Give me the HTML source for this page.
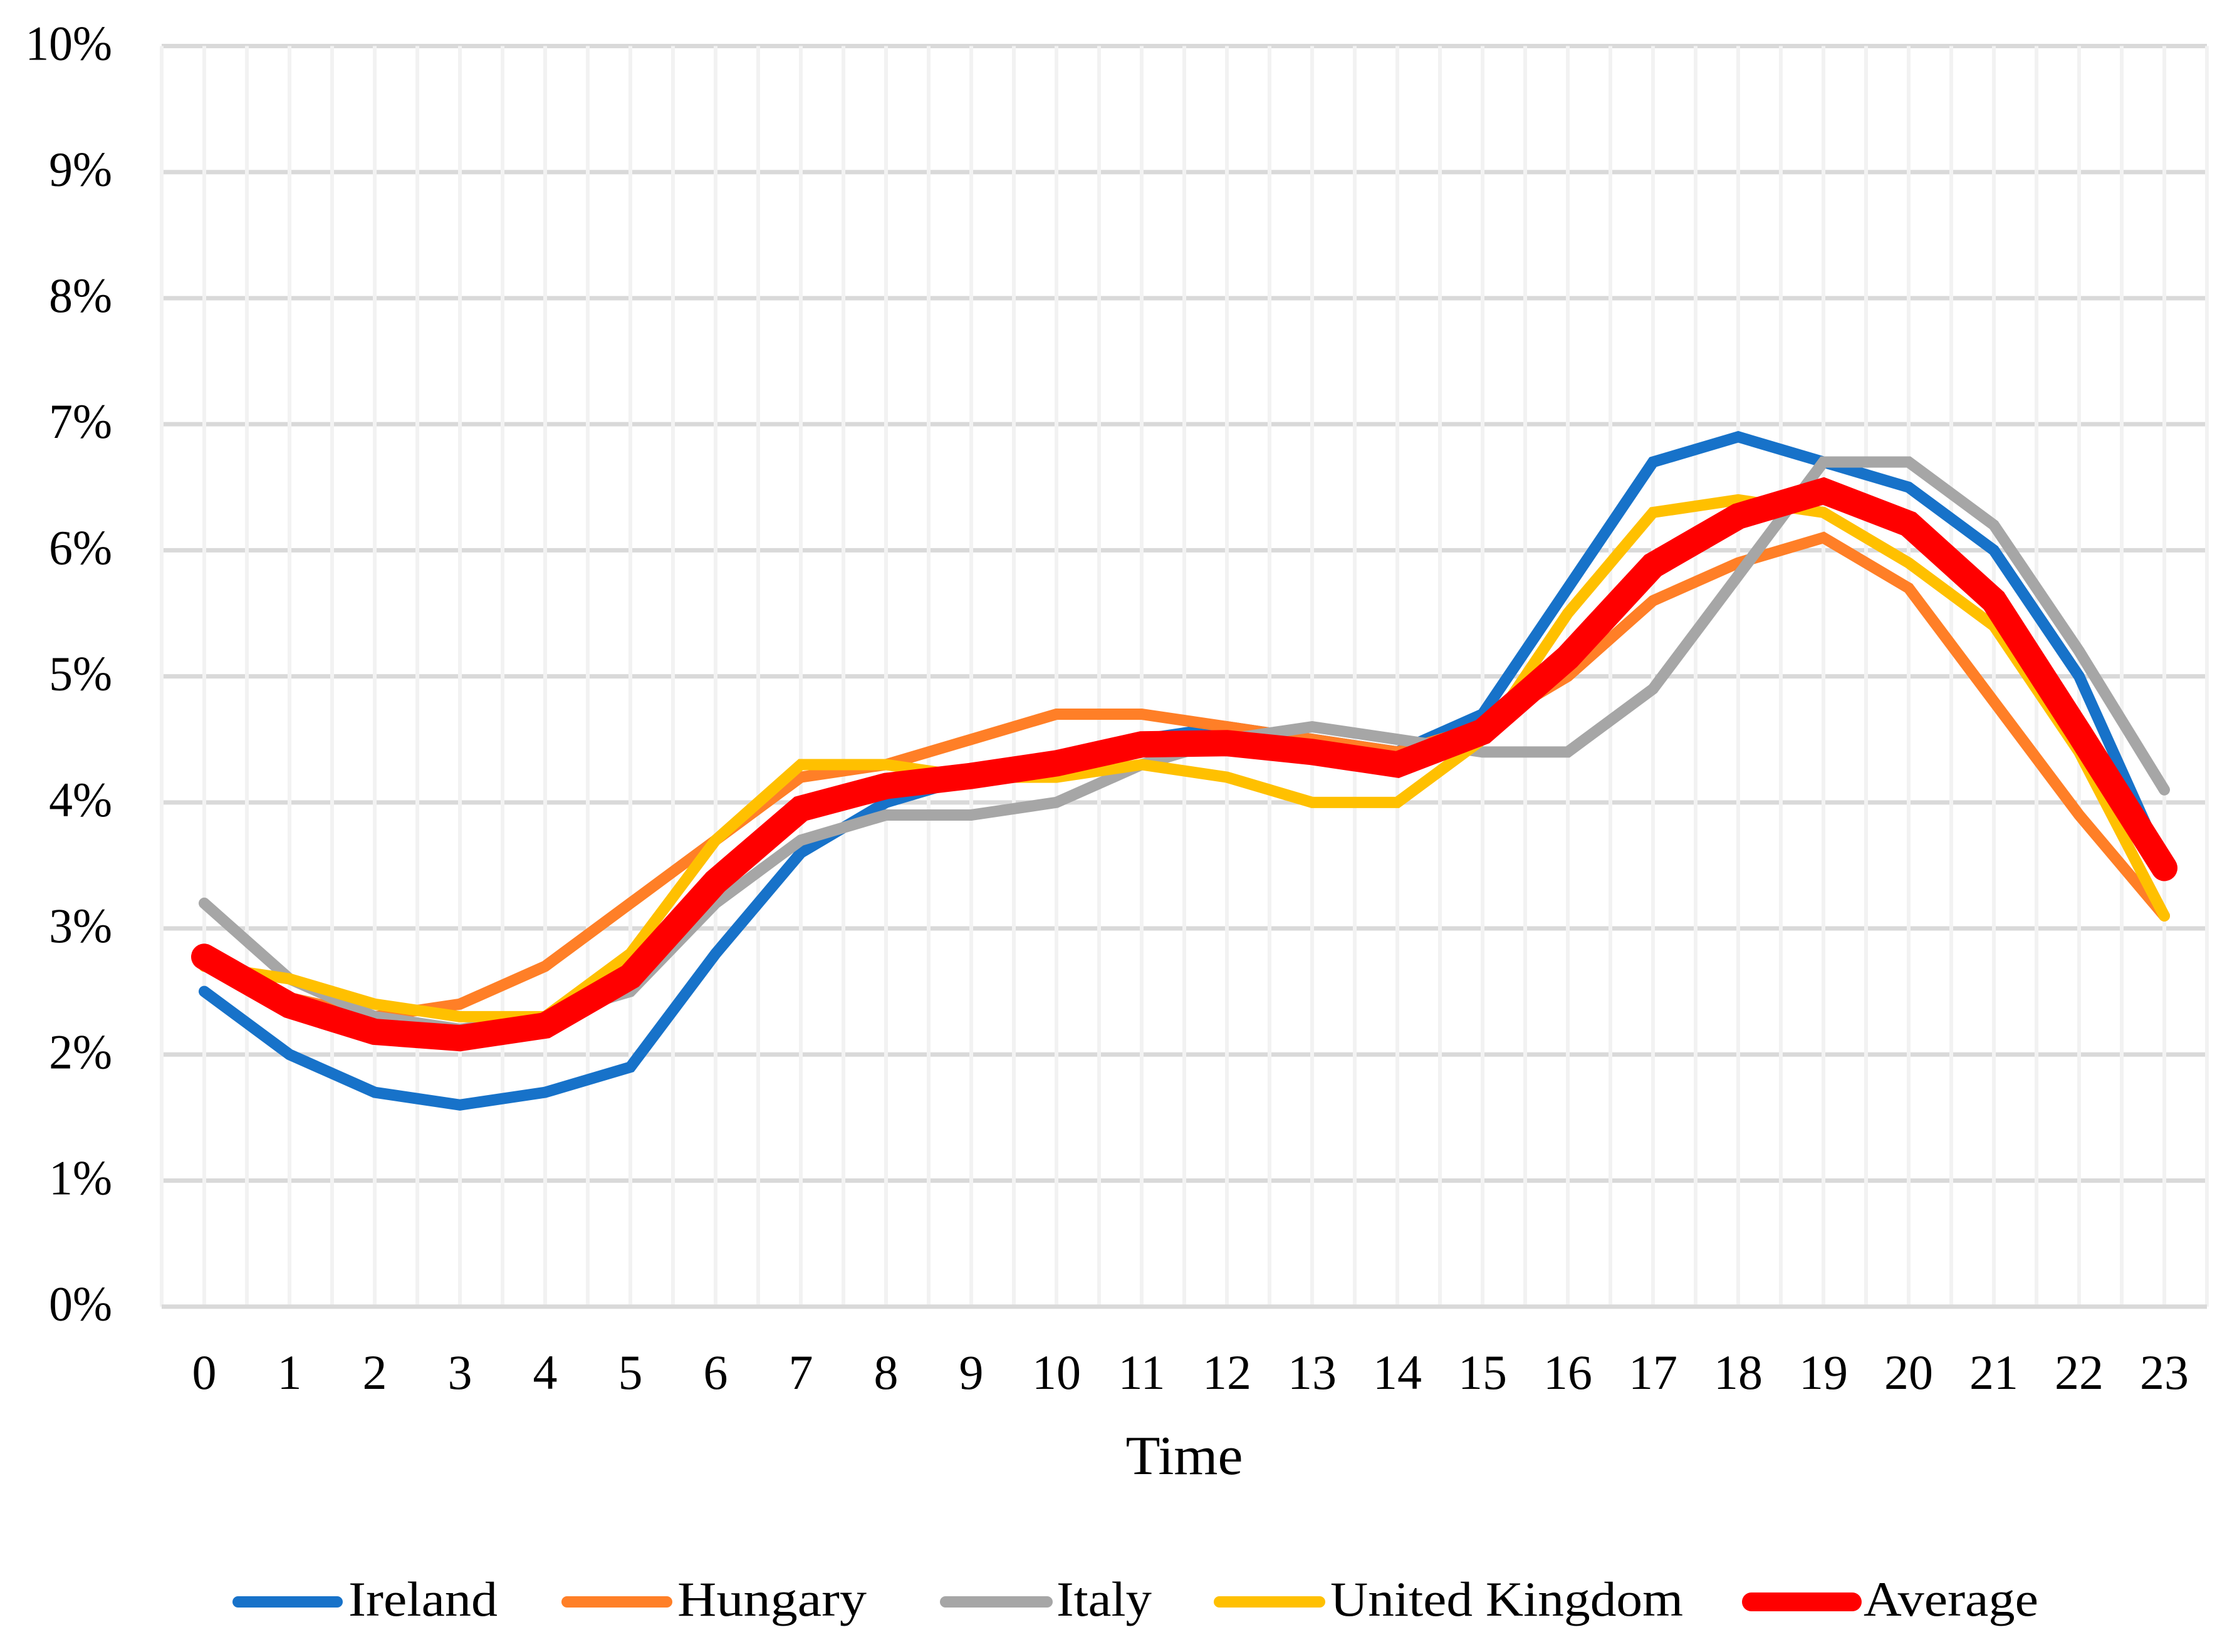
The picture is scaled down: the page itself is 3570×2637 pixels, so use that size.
<!DOCTYPE html>
<html lang="en">
<head>
<meta charset="utf-8">
<title>Hourly share by country</title>
<style>
html,body{margin:0;padding:0;background:#fff;}
svg{display:block;}
text{font-family:"Liberation Serif",serif;fill:#000;}
</style>
</head>
<body>
<svg id="chart" xmlns="http://www.w3.org/2000/svg" width="3570" height="2637" viewBox="0 0 3570 2637">
  <rect x="0" y="0" width="3570" height="2637" fill="#ffffff"/>
  <g id="h-grid"></g>
  <g id="v-grid"></g>
  <line x1="258" x2="3522" y1="2085.7" y2="2085.7" stroke="#d9d9d9" stroke-width="7"/>
  <g id="y-labels"></g>
  <g id="x-labels"></g>
  <g id="series"></g>
  <text x="1890" y="2353" font-size="88" text-anchor="middle" textLength="187" lengthAdjust="spacingAndGlyphs">Time</text>
  <g>
    <g>
      <line x1="380" x2="538" y1="2557" y2="2557" stroke="#1772c9" stroke-width="18" stroke-linecap="round"/>
      <text x="556" y="2579" font-size="78" textLength="238" lengthAdjust="spacingAndGlyphs">Ireland</text>
    </g>
    <g>
      <line x1="905" x2="1064" y1="2557" y2="2557" stroke="#ff7f27" stroke-width="18" stroke-linecap="round"/>
      <text x="1081" y="2579" font-size="78" textLength="302" lengthAdjust="spacingAndGlyphs">Hungary</text>
    </g>
    <g>
      <line x1="1509" x2="1671" y1="2557" y2="2557" stroke="#a6a6a6" stroke-width="18" stroke-linecap="round"/>
      <text x="1686" y="2579" font-size="78" textLength="152" lengthAdjust="spacingAndGlyphs">Italy</text>
    </g>
    <g>
      <line x1="1946" x2="2106" y1="2557" y2="2557" stroke="#ffc000" stroke-width="18" stroke-linecap="round"/>
      <text x="2123" y="2579" font-size="78" textLength="563" lengthAdjust="spacingAndGlyphs">United Kingdom</text>
    </g>
    <g>
      <line x1="2795" x2="2956" y1="2557" y2="2557" stroke="#ff0000" stroke-width="30" stroke-linecap="round"/>
      <text x="2974" y="2579" font-size="78" textLength="279" lengthAdjust="spacingAndGlyphs">Average</text>
    </g>
  </g>
</svg>
<script>
var hours = ["0","1","2","3","4","5","6","7","8","9","10","11","12","13","14","15","16","17","18","19","20","21","22","23"];
var yTickValues = [0,1,2,3,4,5,6,7,8,9,10];
var yTickLabels = ["0%","1%","2%","3%","4%","5%","6%","7%","8%","9%","10%"];
var ireland = [2.5,2.0,1.7,1.6,1.7,1.9,2.8,3.6,4.0,4.2,4.3,4.5,4.6,4.5,4.4,4.7,5.7,6.7,6.9,6.7,6.5,6.0,5.0,3.5];
var hungary = [2.8,2.45,2.3,2.4,2.7,3.2,3.7,4.2,4.3,4.5,4.7,4.7,4.6,4.5,4.4,4.6,5.0,5.6,5.9,6.1,5.7,4.8,3.9,3.1];
var italy = [3.2,2.6,2.3,2.2,2.3,2.5,3.2,3.7,3.9,3.9,4.0,4.3,4.5,4.6,4.5,4.4,4.4,4.9,5.8,6.7,6.7,6.2,5.2,4.1];
var unitedKingdom = [2.7,2.6,2.4,2.3,2.3,2.8,3.7,4.3,4.3,4.2,4.2,4.3,4.2,4.0,4.0,4.5,5.5,6.3,6.4,6.3,5.9,5.4,4.4,3.1];
var average = [2.775,2.39,2.18,2.13,2.23,2.62,3.37,3.95,4.13,4.21,4.31,4.46,4.47,4.40,4.30,4.56,5.15,5.88,6.27,6.47,6.21,5.60,4.55,3.48];

var NS = "http://www.w3.org/2000/svg";
var plotLeft = 258, plotRight = 3522, plotTop = 73.5, plotBottom = 2085.7;
var yMax = 10;
function xPos(i){ return plotLeft + (plotRight - plotLeft) * (i + 0.5) / hours.length; }
function yPos(v){ return plotBottom - (plotBottom - plotTop) * v / yMax; }
function make(tag, parent){
  var el = document.createElementNS(NS, tag);
  parent.appendChild(el);
  return el;
}

var hGrid = document.getElementById("h-grid");
yTickValues.forEach(function(v){
  if (v === 0) return;
  var l = make("line", hGrid);
  
  
  l.setAttribute("x1", plotLeft);
  l.setAttribute("x2", plotRight);
  l.setAttribute("y1", yPos(v));
  l.setAttribute("y2", yPos(v));
  l.setAttribute("stroke", "#d9d9d9");
  l.setAttribute("stroke-width", "7");
});

var vGrid = document.getElementById("v-grid");
for (var k = 0; k <= hours.length * 2; k++) {
  var vx = plotLeft + (plotRight - plotLeft) * k / (hours.length * 2);
  var vl = make("line", vGrid);
  
  
  vl.setAttribute("x1", vx);
  vl.setAttribute("x2", vx);
  vl.setAttribute("y1", plotTop);
  vl.setAttribute("y2", plotBottom);
  vl.setAttribute("stroke", "#f2f2f2");
  vl.setAttribute("stroke-width", "6");
}

var yLabels = document.getElementById("y-labels");
yTickValues.forEach(function(v, i){
  var t = make("text", yLabels);
  
  
  t.setAttribute("transform", "translate(179," + (yPos(v) + 22) + ") scale(0.97,1)");
  t.setAttribute("text-anchor", "end");
  t.setAttribute("font-size", "78");
  t.textContent = yTickLabels[i];
});

var xLabels = document.getElementById("x-labels");
hours.forEach(function(h, i){
  var t = make("text", xLabels);
  
  
  t.setAttribute("x", xPos(i));
  t.setAttribute("y", "2217");
  t.setAttribute("text-anchor", "middle");
  t.setAttribute("font-size", "78");
  t.textContent = h;
});

function drawSeries(values, color, width, name){
  var g = document.getElementById("series");
  var p = make("polyline", g);
  
  
  p.setAttribute("points", values.map(function(v, i){ return xPos(i) + "," + yPos(v); }).join(" "));
  p.setAttribute("fill", "none");
  p.setAttribute("stroke", color);
  p.setAttribute("stroke-width", width);
  p.setAttribute("stroke-linecap", "round");
  p.setAttribute("stroke-linejoin", "miter");
}
drawSeries(ireland, "#1772c9", 18, "series-ireland");
drawSeries(hungary, "#ff7f27", 18, "series-hungary");
drawSeries(italy, "#a6a6a6", 18, "series-italy");
drawSeries(unitedKingdom, "#ffc000", 18, "series-united-kingdom");
drawSeries(average, "#ff0000", 42, "series-average");
</script>
</body>
</html>
